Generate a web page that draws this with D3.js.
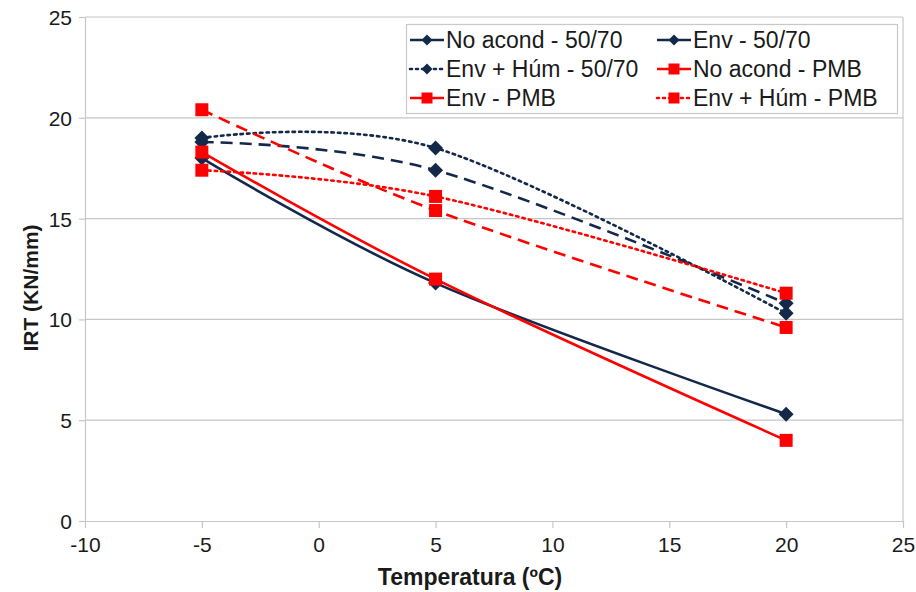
<!DOCTYPE html>
<html>
<head>
<meta charset="utf-8">
<script src="https://cdn.jsdelivr.net/npm/d3@7"></script>
<style>
  html, body { margin: 0; padding: 0; background: #fff; }
  svg { display: block; font-family: "Liberation Sans", Arial, sans-serif; }
</style>
</head>
<body>
<svg id="chart" width="916" height="592"></svg>
<script>
// Temperatures tested (ºC)
const temperatures = [-5, 5, 20];

// IRT (KN/mm) per conditioning and binder
const noAcond5070 = [18.0, 11.8, 5.3];
const env5070     = [18.8, 17.4, 10.8];
const envHum5070  = [19.0, 18.5, 10.3];
const noAcondPMB  = [18.3, 12.0, 4.0];
const envPMB      = [20.4, 15.4, 9.6];
const envHumPMB   = [17.4, 16.1, 11.3];

const seriesNames = [
  "No acond - 50/70", "Env - 50/70", "Env + Húm - 50/70",
  "No acond - PMB", "Env - PMB", "Env + Húm - PMB"
];

const xTicks = [-10, -5, 0, 5, 10, 15, 20, 25];
const yTicks = [0, 5, 10, 15, 20, 25];

const navy = "#14294a";
const red = "#ff0000";

const series = [
  { name: seriesNames[0], values: noAcond5070, color: navy, dash: null, marker: "diamond" },
  { name: seriesNames[1], values: env5070, color: navy, dash: "12,7", marker: "diamond" },
  { name: seriesNames[2], values: envHum5070, color: navy, dash: "2.5,4", marker: "diamond" },
  { name: seriesNames[3], values: noAcondPMB, color: red, dash: null, marker: "square" },
  { name: seriesNames[4], values: envPMB, color: red, dash: "12,7", marker: "square" },
  { name: seriesNames[5], values: envHumPMB, color: red, dash: "2.5,4", marker: "square" }
];

const svg = d3.select("#chart");
const plotLeft = 85, plotRight = 903, plotTop = 17, plotBottom = 521;

const x = d3.scaleLinear().domain([-10, 25]).range([plotLeft, plotRight]);
const y = d3.scaleLinear().domain([0, 25]).range([plotBottom, plotTop]);

const grid = "#c6c6c6";
const textColor = "#1a1a1a";

// horizontal gridlines
svg.append("g").selectAll("line")
  .data(yTicks.filter(d => d > 0))
  .join("line")
  .attr("x1", plotLeft).attr("x2", plotRight)
  .attr("y1", d => y(d)).attr("y2", d => y(d))
  .attr("stroke", grid).attr("stroke-width", 1.2);

// right border of the plot area
svg.append("line")
  .attr("x1", plotRight).attr("x2", plotRight).attr("y1", plotTop).attr("y2", plotBottom)
  .attr("stroke", grid).attr("stroke-width", 1.2);

// axes (plain hyphen for negatives)
const fmt = d => String(d);
const xAxis = svg.append("g")
  .attr("transform", `translate(0,${plotBottom})`)
  .call(d3.axisBottom(x).tickValues(xTicks).tickSize(7).tickSizeOuter(0).tickFormat(fmt));
const yAxis = svg.append("g")
  .attr("transform", `translate(${plotLeft},0)`)
  .call(d3.axisLeft(y).tickValues(yTicks).tickSize(6).tickSizeOuter(0).tickFormat(fmt));

[xAxis, yAxis].forEach(a => {
  a.select(".domain").attr("stroke", grid).attr("stroke-width", 1.2);
  a.selectAll(".tick line").attr("stroke", grid).attr("stroke-width", 1.2);
  a.selectAll(".tick text")
    .attr("fill", textColor)
    .style("font-family", "'Liberation Sans', Arial, sans-serif")
    .style("font-size", "21px");
});
xAxis.selectAll(".tick text").attr("y", 12).attr("dy", "0.9em");
yAxis.selectAll(".tick text").attr("x", -13).attr("dy", "0.36em");

// axis titles
svg.append("text")
  .attr("x", 470).attr("y", 585)
  .attr("text-anchor", "middle")
  .style("font-size", "23px").style("font-weight", "bold")
  .attr("fill", textColor)
  .text("Temperatura (ºC)");

svg.append("text")
  .attr("transform", "translate(38,288) rotate(-90)")
  .attr("text-anchor", "middle")
  .style("font-size", "21px").style("font-weight", "bold")
  .attr("fill", textColor)
  .text("IRT (KN/mm)");

// smoothed lines
const line = d3.line()
  .x(d => x(d[0]))
  .y(d => y(d[1]))
  .curve(d3.curveCardinal.tension(0));

const plot = svg.append("g");

function drawMarker(g, type, cx, cy, size, color) {
  if (type === "diamond") {
    const h = size / 2;
    g.append("path")
      .attr("d", `M${cx},${cy - h}L${cx + h},${cy}L${cx},${cy + h}L${cx - h},${cy}Z`)
      .attr("fill", color);
  } else {
    g.append("rect")
      .attr("x", cx - size / 2).attr("y", cy - size / 2)
      .attr("width", size).attr("height", size)
      .attr("fill", color);
  }
}

series.forEach(s => {
  const pts = temperatures.map((t, i) => [t, s.values[i]]);
  plot.append("path")
    .attr("d", line(pts))
    .attr("fill", "none")
    .attr("stroke", s.color)
    .attr("stroke-width", 2.6)
    .attr("stroke-linecap", s.dash && s.dash.startsWith("2.5") ? "round" : "butt")
    .attr("stroke-dasharray", s.dash);
  const mg = plot.append("g");
  pts.forEach(p => drawMarker(mg, s.marker, x(p[0]), y(p[1]), s.marker === "diamond" ? 15 : 13, s.color));
});

// legend
const lg = svg.append("g");
lg.append("rect")
  .attr("x", 406.5).attr("y", 24.5).attr("width", 491).attr("height", 89)
  .attr("fill", "#fff").attr("stroke", "#c8c8c8").attr("stroke-width", 1.2);

const colX = [410, 657];
const rowY = [40, 69, 98];
series.forEach((s, i) => {
  const cx = colX[i % 2];
  const cy = rowY[Math.floor(i / 2)];
  const item = lg.append("g");
  item.append("line")
    .attr("x1", cx).attr("x2", cx + 34)
    .attr("y1", cy).attr("y2", cy)
    .attr("stroke", s.color).attr("stroke-width", 2.6)
    .attr("stroke-linecap", s.dash && s.dash.startsWith("2.5") ? "round" : "butt")
    .attr("stroke-dasharray", s.dash && s.dash.startsWith("2.5") ? "2,4" : null);
  drawMarker(item, s.marker, cx + 17, cy, 11, s.color);
  item.append("text")
    .attr("x", cx + 36).attr("y", cy)
    .attr("dy", "0.36em")
    .style("font-size", "23px")
    .attr("fill", textColor)
    .text(s.name);
});
</script>
</body>
</html>
